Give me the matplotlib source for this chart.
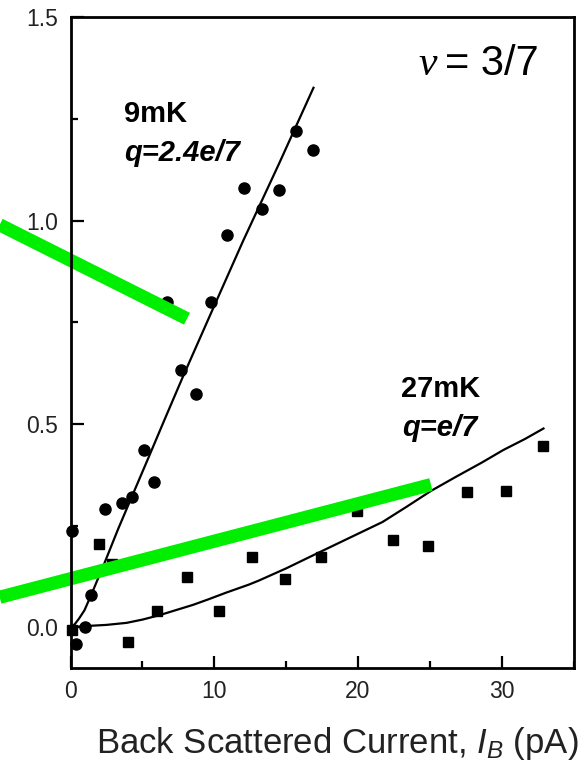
import matplotlib
matplotlib.use("Agg")
import matplotlib.pyplot as plt
from matplotlib.ticker import MultipleLocator

plt.rcParams['font.family'] = ['Liberation Sans', 'DejaVu Sans']
plt.rcParams['mathtext.fontset'] = 'custom'
plt.rcParams['mathtext.rm'] = 'Liberation Sans'
plt.rcParams['mathtext.it'] = 'Liberation Sans:italic'

# 9 mK data (circles)
x_9mk = [0.07, 0.4, 1.0, 1.4, 2.4, 3.6, 4.3, 5.1, 5.8, 6.7, 7.7, 8.7,
         9.8, 10.9, 12.1, 13.3, 14.5, 15.7, 16.9]
y_9mk = [0.238, -0.04, 0.0, 0.08, 0.29, 0.305, 0.32, 0.437, 0.357, 0.80, 0.634, 0.575,
         0.80, 0.966, 1.08, 1.03, 1.076, 1.22, 1.175]

# 27 mK data (squares)
x_27mk = [0.07, 2.0, 2.9, 4.0, 6.0, 8.1, 10.3, 12.6, 14.9, 17.4, 19.9, 22.4,
          24.9, 27.6, 30.3, 32.9]
y_27mk = [-0.007, 0.206, 0.155, -0.037, 0.039, 0.123, 0.039, 0.172, 0.12, 0.172, 0.285, 0.214,
          0.20, 0.334, 0.336, 0.447]

# fit curves
fit_9mk_x = [0, 0.3, 0.6, 0.97, 1.44, 2.36, 3.29, 4.2, 5.37, 6.53, 7.8, 9.8, 12.0, 14.5, 16.9]
fit_9mk_y = [0, 0.008, 0.022, 0.042, 0.08, 0.158, 0.24, 0.316, 0.413, 0.51, 0.615, 0.775,
             0.95, 1.14, 1.327]
fit_27mk_x = [0, 1.0, 2.5, 3.9, 5.0, 6.2, 7.3, 8.5, 9.6, 10.8, 12.4, 13.1, 15.0, 17.1,
              19.4, 21.7, 23.4, 25.05, 26.8, 28.6, 30.1, 31.6, 32.9]
fit_27mk_y = [0, 0.003, 0.006, 0.011, 0.019, 0.03, 0.042, 0.055, 0.069, 0.085, 0.105, 0.115,
              0.145, 0.181, 0.22, 0.259, 0.297, 0.335, 0.37, 0.405, 0.436, 0.463, 0.489]

# green overlay strokes
green1_x = [-4.93, 8.1]
green1_y = [0.99, 0.759]
green2_x = [-4.93, 25.07]
green2_y = [0.074, 0.351]

fig = plt.figure(figsize=(5.83, 7.81), dpi=100)
ax = fig.add_axes([0.121, 0.1447, 0.863, 0.833])

ax.plot(fit_9mk_x, fit_9mk_y, color='black', lw=1.6)
ax.plot(fit_27mk_x, fit_27mk_y, color='black', lw=1.6)
ax.plot(x_9mk, y_9mk, 'o', color='black', ms=8, clip_on=False)
ax.plot(x_27mk, y_27mk, 's', color='black', ms=7.5, clip_on=False)

green = '#00ee00'
ax.plot(green1_x, green1_y, color=green, lw=9.5, solid_capstyle='butt', clip_on=False)
ax.plot(green2_x, green2_y, color=green, lw=9.5, solid_capstyle='butt', clip_on=False)

ax.set_xlim(0, 35)
ax.set_ylim(-0.1, 1.5)
ax.xaxis.set_major_locator(MultipleLocator(10))
ax.xaxis.set_minor_locator(MultipleLocator(5))
ax.yaxis.set_major_locator(MultipleLocator(0.5))
ax.yaxis.set_minor_locator(MultipleLocator(0.25))
ax.tick_params(which='both', direction='in', top=False, right=False, width=1.6,
               labelsize=16.5, labelcolor='#222222', pad=9)
ax.tick_params(which='major', length=9)
ax.tick_params(which='minor', length=5)
for sp in ax.spines.values():
    sp.set_linewidth(2.0)

ax.set_xlabel(r'Back Scattered Current, $I_B$ (pA)', fontsize=25, color='#222222')
ax.xaxis.set_label_coords(0.53, -0.088)

ax.text(3.75, 1.263, '9mK', fontsize=21, fontweight='bold', va='center')
ax.text(3.75, 1.167, 'q=2.4e/7', fontsize=21, fontweight='bold', style='italic', va='center')
ax.text(23.0, 0.587, '27mK', fontsize=21, fontweight='bold', va='center')
ax.text(23.1, 0.491, 'q=e/7', fontsize=21, fontweight='bold', style='italic', va='center')

ax.text(0.691, 0.928, '\u03bd', transform=ax.transAxes, fontsize=30,
        family='Liberation Serif', style='italic', va='center')
ax.text(0.745, 0.928, '= 3/7', transform=ax.transAxes, fontsize=30, va='center')

fig.savefig('out.png', dpi=100)
